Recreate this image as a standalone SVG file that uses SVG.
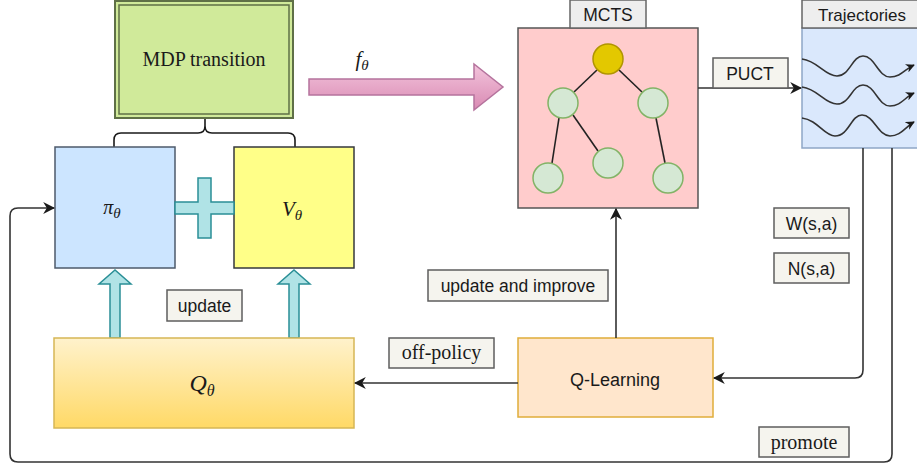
<svg xmlns="http://www.w3.org/2000/svg" width="917" height="468" viewBox="0 0 917 468">
  <style>
    .sans { font-family: "Liberation Sans", Arial, sans-serif; fill: #1a1a1a; }
    .serif { font-family: "Liberation Serif", "Times New Roman", serif; fill: #1a1a1a; }
    .math { font-family: "Liberation Serif", "Times New Roman", serif; font-style: italic; fill: #1a1a1a; }
    .tag { fill: #f5f4ee; stroke: #5e5e5e; stroke-width: 1.5; }
    .conn { fill: none; stroke: #333333; stroke-width: 1.6; }
    .edge { stroke: #222222; stroke-width: 1.6; }
    .leaf { fill: #d5e8d4; stroke: #82b366; stroke-width: 1.5; }
    .block { fill: #b0e3e6; stroke: #2a8f96; stroke-width: 1.5; }
  </style>
  <defs>
    <marker id="arrow" viewBox="0 0 10 10" refX="9" refY="5" markerWidth="9" markerHeight="9" markerUnits="userSpaceOnUse" orient="auto">
      <path d="M0,0 L10,5 L0,10 L3,5 Z" fill="#1a1a1a"/>
    </marker>
    <marker id="arrowLg" viewBox="0 0 10 10" refX="9" refY="5" markerWidth="12" markerHeight="12" markerUnits="userSpaceOnUse" orient="auto">
      <path d="M0,0 L10,5 L0,10 L3,5 Z" fill="#1a1a1a"/>
    </marker>
    <linearGradient id="qGrad" x1="0" y1="0" x2="0" y2="1">
      <stop offset="0" stop-color="#fff2cc"/>
      <stop offset="1" stop-color="#ffd966"/>
    </linearGradient>
    <linearGradient id="pinkGrad" x1="0" y1="0" x2="0" y2="1">
      <stop offset="0" stop-color="#f3c4dc"/>
      <stop offset="1" stop-color="#d98ab3"/>
    </linearGradient>
  </defs>

  <!-- MDP transition (double border) -->
  <g id="mdp">
    <rect x="115" y="1" width="178" height="117" fill="#d0ea9a" stroke="#5f7047" stroke-width="2"/>
    <rect x="119" y="5" width="170" height="109" fill="none" stroke="#5f7047" stroke-width="1.5"/>
    <text class="serif" x="204" y="66" font-size="20" text-anchor="middle">MDP transition</text>
  </g>

  <!-- curly brace joining the two networks -->
  <g id="brace">
    <path d="M114,148 L114,140 Q114,133 121,133 L198,133 Q205,133 205,126 L205,119 M205,126 Q205,133 212,133 L288,133 Q295,133 295,140 L295,148" fill="none" stroke="#1a1a1a" stroke-width="1.6"/>
  </g>

  <!-- policy network -->
  <g id="policy">
    <rect x="55" y="147" width="120" height="121" fill="#cce5ff" stroke="#4d5a6b" stroke-width="1.5"/>
    <text class="math" x="112" y="214" font-size="20" text-anchor="middle">π<tspan font-size="15" dy="4">θ</tspan></text>
  </g>

  <!-- value network -->
  <g id="value">
    <rect x="234" y="147" width="120" height="121" fill="#ffff88" stroke="#36393d" stroke-width="1.5"/>
    <text class="math" x="292" y="216" font-size="21" text-anchor="middle">V<tspan font-size="15" dy="4">θ</tspan></text>
  </g>

  <!-- plus sign between the networks -->
  <g id="plus">
    <path class="block" d="M175,202 L198,202 L198,178 L211,178 L211,202 L234,202 L234,214 L211,214 L211,238 L198,238 L198,214 L175,214 Z"/>
  </g>

  <!-- update block arrows -->
  <g id="update-arrows">
    <path class="block" d="M110,338 L110,284 L99,284 L115,270 L131,284 L120,284 L120,338 Z"/>
    <path class="block" d="M289,338 L289,284 L278,284 L294,270 L310,284 L299,284 L299,338 Z"/>
  </g>

  <!-- Q network -->
  <g id="qnet">
    <rect x="54" y="338" width="300" height="90" fill="url(#qGrad)" stroke="#d6b656" stroke-width="1.5"/>
    <text class="math" x="202" y="391" font-size="24" text-anchor="middle">Q<tspan font-size="16" dy="5">θ</tspan></text>
  </g>

  <!-- f_theta block arrow -->
  <g id="f-theta">
    <path d="M309,79 L474,79 L474,64 L503,87 L474,110 L474,95 L309,95 Z" fill="url(#pinkGrad)" stroke="#b5739d" stroke-width="1.5"/>
    <text class="math" x="362" y="66" font-size="21" text-anchor="middle">f<tspan font-size="15" dy="4">θ</tspan></text>
  </g>

  <!-- MCTS panel with search tree -->
  <g id="mcts">
    <rect x="518" y="28" width="180" height="180" fill="#ffcccc" stroke="#555555" stroke-width="1.5"/>
    <rect x="570" y="0" width="76" height="28" fill="#eeeeee" stroke="#666666" stroke-width="1.5"/>
    <text class="sans" x="608" y="21" font-size="17.5" text-anchor="middle">MCTS</text>
    <line class="edge" x1="597" y1="70" x2="574" y2="92"/>
    <line class="edge" x1="619" y1="70" x2="642" y2="92"/>
    <line class="edge" x1="559" y1="118" x2="552" y2="163"/>
    <line class="edge" x1="573" y1="115" x2="598" y2="151"/>
    <line class="edge" x1="656" y1="118" x2="665" y2="163"/>
    <circle cx="608" cy="59" r="15" fill="#e3c800" stroke="#b09500" stroke-width="1.5"/>
    <circle class="leaf" cx="563" cy="103" r="15"/>
    <circle class="leaf" cx="653" cy="103" r="15"/>
    <circle class="leaf" cx="548" cy="178" r="15"/>
    <circle class="leaf" cx="608" cy="163" r="15"/>
    <circle class="leaf" cx="668" cy="178" r="15"/>
  </g>

  <!-- Trajectories panel -->
  <g id="trajectories">
    <rect x="802" y="28" width="120" height="120" fill="#dae8fc" stroke="#8ea6c6" stroke-width="1.5"/>
    <rect x="802" y="0" width="120" height="28" fill="#eeeeee" stroke="#666666" stroke-width="1.5"/>
    <text class="sans" x="862" y="21" font-size="17" text-anchor="middle">Trajectories</text>
    <path class="conn" marker-end="url(#arrow)" d="M802,59 C818,61 825,76 837,76 C850,76 852,56 863,56 C875,56 878,77 890,77 C901,77 905,69 914,65"/>
    <path class="conn" marker-end="url(#arrow)" d="M802,87 C818,89 825,104 837,104 C850,104 852,85 863,85 C875,85 878,106 890,106 C901,106 905,97 914,93"/>
    <path class="conn" marker-end="url(#arrow)" d="M802,118 C818,120 824,136 835,136 C849,136 851,115 862,115 C874,115 878,136 890,136 C901,136 905,127 914,122"/>
  </g>

  <!-- Q-Learning -->
  <g id="qlearning">
    <rect x="518" y="338" width="195" height="79" fill="#ffe6cc" stroke="#e0ad3a" stroke-width="1.5"/>
    <text class="sans" x="615" y="386" font-size="18" text-anchor="middle">Q-Learning</text>
  </g>

  <!-- connectors -->
  <g id="connectors">
    <line class="conn" x1="698" y1="88" x2="801" y2="88" marker-end="url(#arrowLg)"/>
    <line class="conn" x1="616" y1="338" x2="616" y2="209" marker-end="url(#arrowLg)"/>
    <line class="conn" x1="518" y1="383" x2="355" y2="383" marker-end="url(#arrowLg)"/>
    <path class="conn" d="M863,148 L863,370 Q863,378 855,378 L714,378" marker-end="url(#arrowLg)"/>
    <path class="conn" d="M892,148 L892,454 Q892,462 884,462 L18,462 Q10,462 10,454 L10,216 Q10,208 18,208 L54,208" marker-end="url(#arrowLg)"/>
  </g>

  <!-- edge labels -->
  <g id="labels">
    <rect class="tag" x="713" y="58" width="75" height="30"/>
    <text class="sans" x="750" y="80" font-size="17.5" text-anchor="middle">PUCT</text>
    <rect class="tag" x="167" y="290" width="75" height="31"/>
    <text class="sans" x="204.5" y="312" font-size="17.5" text-anchor="middle">update</text>
    <rect class="tag" x="428" y="270" width="180" height="31"/>
    <text class="sans" x="518" y="292" font-size="17.5" text-anchor="middle">update and improve</text>
    <rect class="tag" x="389" y="338" width="105" height="30"/>
    <text class="serif" x="441.5" y="359" font-size="20" text-anchor="middle">off-policy</text>
    <rect class="tag" x="774" y="208" width="75" height="30"/>
    <text class="sans" x="811.5" y="230" font-size="17.5" text-anchor="middle">W(s,a)</text>
    <rect class="tag" x="774" y="253" width="75" height="30"/>
    <text class="sans" x="811.5" y="275" font-size="17.5" text-anchor="middle">N(s,a)</text>
    <rect class="tag" x="759" y="427" width="90" height="30"/>
    <text class="serif" x="804" y="449" font-size="20" text-anchor="middle">promote</text>
  </g>
</svg>
